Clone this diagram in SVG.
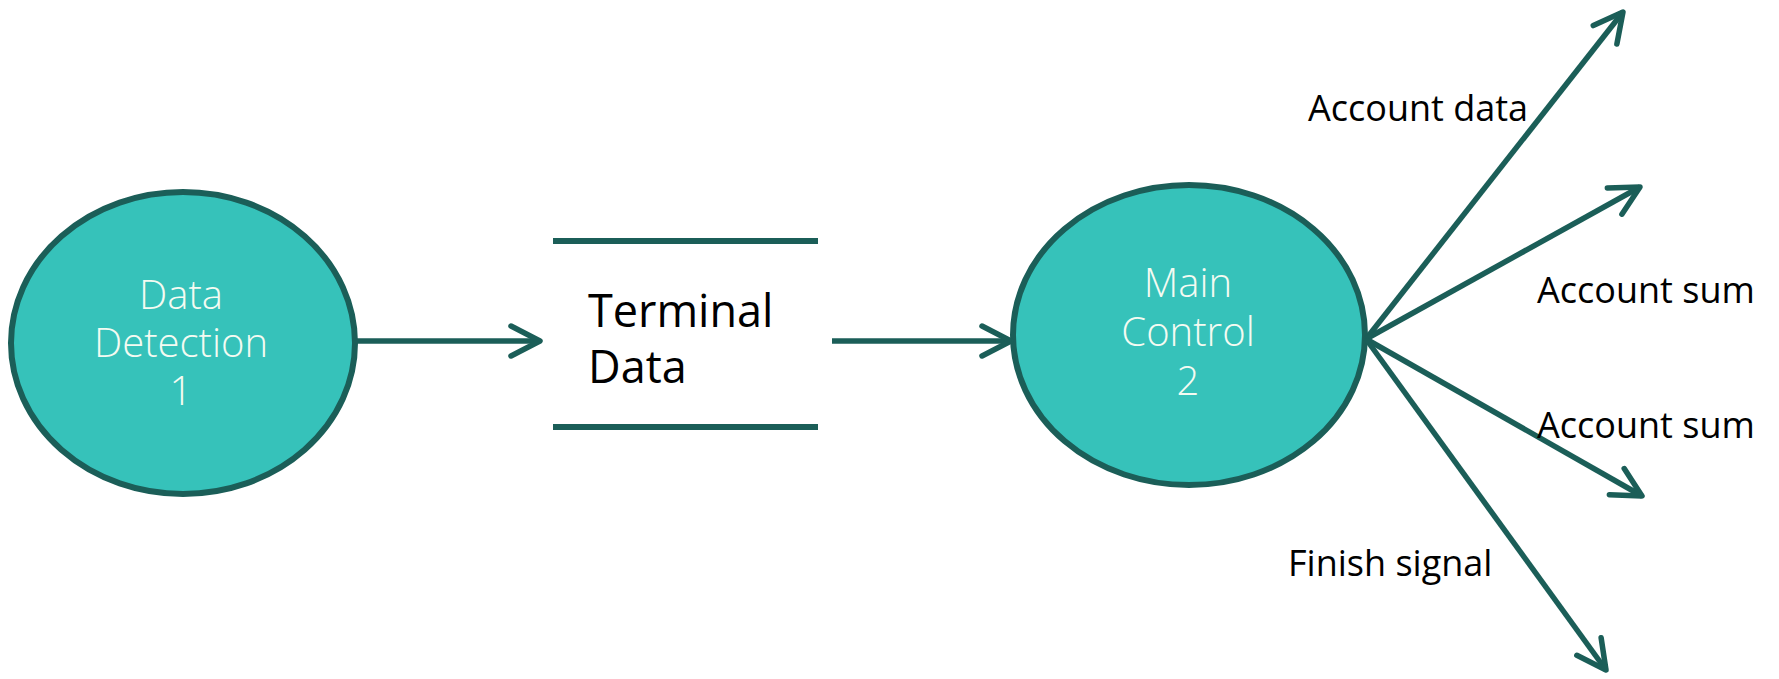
<svg xmlns="http://www.w3.org/2000/svg" width="1779" height="679" viewBox="0 0 1779 679">
<defs>
<style>
.proc{fill:#36C2BA;stroke:#1B5E58;stroke-width:6}
.ptxt{font-family:"Open Sans","Noto Sans",sans-serif;font-size:40px;font-weight:300;fill:#F4FBF2;text-anchor:middle}
.store{stroke:#1B5E58;stroke-width:6;fill:none}
.stxt{font-family:"Open Sans","Noto Sans",sans-serif;font-size:45px;fill:#000}
.flow{stroke:#1B5E58;stroke-width:5.5;fill:none;marker-end:url(#arr)}
.lbl{font-family:"Open Sans","Noto Sans",sans-serif;font-size:36px;fill:#000}
</style>
<marker id="arr" viewBox="-34 -20 40 40" refX="0" refY="0" markerWidth="40" markerHeight="40" markerUnits="userSpaceOnUse" orient="auto">
<path d="M-29,-15 L0,0 L-29,15" fill="none" stroke="#1B5E58" stroke-width="5.5" stroke-linecap="round" stroke-linejoin="round"/>
</marker>
</defs>
<rect width="1779" height="679" fill="#FFFFFF"/>
<g id="node-data-detection">
<ellipse class="proc" cx="183" cy="343" rx="172" ry="151"/>
<text class="ptxt" x="181" y="309">Data</text>
<text class="ptxt" x="181" y="357">Detection</text>
<text class="ptxt" x="181" y="405">1</text>
</g>
<g id="node-terminal-data">
<line class="store" x1="553" y1="241" x2="818" y2="241"/>
<line class="store" x1="553" y1="427" x2="818" y2="427"/>
<text class="stxt" x="588" y="327">Terminal</text>
<text class="stxt" x="588" y="383">Data</text>
</g>
<g id="node-main-control">
<ellipse class="proc" cx="1189" cy="335" rx="176" ry="150"/>
<text class="ptxt" x="1188" y="297">Main</text>
<text class="ptxt" x="1188" y="346">Control</text>
<text class="ptxt" x="1188" y="395">2</text>
</g>
<g id="connectors">
<line class="flow" x1="355" y1="341" x2="540" y2="341"/>
<line class="flow" x1="832" y1="341" x2="1011" y2="341"/>
<line class="flow" x1="1366" y1="339" x2="1623" y2="12"/>
<line class="flow" x1="1366" y1="339" x2="1640" y2="187"/>
<line class="flow" x1="1366" y1="339" x2="1642" y2="496"/>
<line class="flow" x1="1366" y1="339" x2="1606" y2="670"/>
</g>
<g id="labels">
<text class="lbl" x="1308" y="121">Account data</text>
<text class="lbl" x="1537" y="303">Account sum</text>
<text class="lbl" x="1537" y="438">Account sum</text>
<text class="lbl" x="1288" y="576">Finish signal</text>
</g>
</svg>
